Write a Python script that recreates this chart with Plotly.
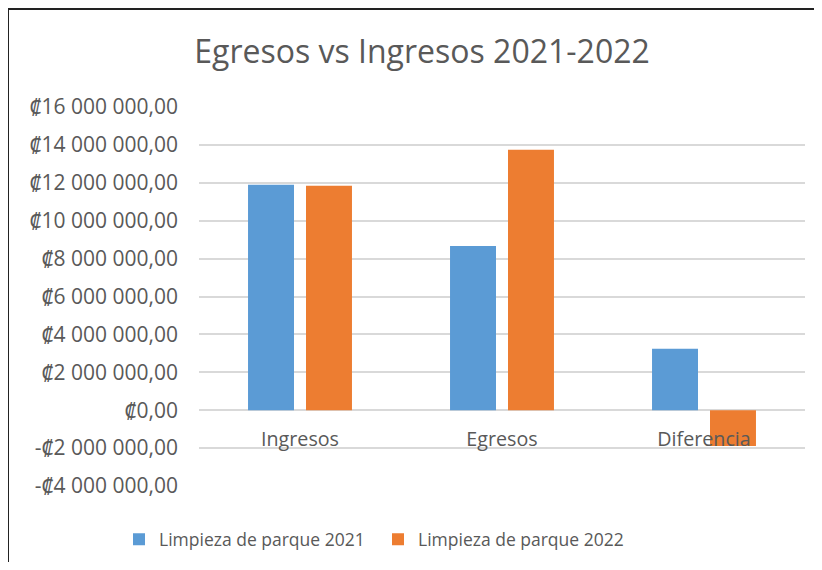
import plotly.graph_objects as go

categories = ["Ingresos", "Egresos", "Diferencia"]
series_2021 = [11900000, 8660000, 3240000]
series_2022 = [11850000, 13740000, -1890000]
series_names = ["Limpieza de parque 2021", "Limpieza de parque 2022"]
tick_values = [-4000000, -2000000, 0, 2000000, 4000000, 6000000, 8000000,
               10000000, 12000000, 14000000, 16000000]
tick_labels = ["-₡4 000 000,00", "-₡2 000 000,00", "₡0,00", "₡2 000 000,00",
               "₡4 000 000,00", "₡6 000 000,00", "₡8 000 000,00",
               "₡10 000 000,00", "₡12 000 000,00", "₡14 000 000,00",
               "₡16 000 000,00"]
title_text = "Egresos vs Ingresos 2021-2022"

FONT = "Open Sans, Noto Sans, DejaVu Sans, sans-serif"
GRAY = "#595959"

fig = go.Figure()
fig.add_trace(go.Bar(x=categories, y=series_2021, name=series_names[0],
                     marker=dict(color="#5B9BD5", line=dict(width=0))))
fig.add_trace(go.Bar(x=categories, y=series_2022, name=series_names[1],
                     marker=dict(color="#ED7D31", line=dict(width=0))))

OFF = 8  # page body offset
W, H = 806, 554
# target positions in window px
win_l, win_r, win_t, win_b = 199, 805, 107, 485.75
L = win_l - OFF
T = win_t - OFF
R = W - (win_r - OFF)
B = H - (win_b - OFF)
pw = W - L - R
ph = H - T - B

def px_x(wx):
    return (wx - OFF - L) / pw

def px_y(wy):
    return (H - B - (wy - OFF)) / ph

fig.update_layout(
    width=W, height=H,
    margin=dict(l=L, r=R, t=T, b=B, autoexpand=False),
    paper_bgcolor="white", plot_bgcolor="white",
    barmode="group", bargap=0.426, bargroupgap=0.207,
    font=dict(family=FONT, color=GRAY),
    title=dict(text=title_text, xref="container", x=(422 - OFF) / W,
               xanchor="center", yref="container",
               y=1 - (52 - OFF) / H, yanchor="middle",
               font=dict(size=32, color=GRAY, family=FONT)),
    showlegend=True,
    legend=dict(orientation="h", x=px_x(119), xanchor="left",
                y=px_y(539), yanchor="middle",
                font=dict(size=17.5, color=GRAY, family=FONT),
                entrywidth=214, entrywidthmode="pixels", tracegroupgap=0),
    xaxis=dict(anchor="free", position=0.2, showline=False, ticks="",
               showgrid=False, ticklabelstandoff=15,
               tickfont=dict(size=19.7, color=GRAY, family=FONT)),
    yaxis=dict(range=[-4000000, 16000000], tickvals=tick_values,
               ticktext=tick_labels, showgrid=True, gridcolor="#d9d9d9",
               gridwidth=1.5, zeroline=True, zerolinecolor="#d9d9d9",
               zerolinewidth=1.5, showline=False, ticks="",
               ticklabelstandoff=20,
               tickfont=dict(size=21, color=GRAY, family=FONT)),
    shapes=[
        dict(type="line", xref="paper", yref="paper",
             x0=px_x(8), x1=px_x(8), y0=px_y(9), y1=px_y(700),
             line=dict(color="#222222", width=2)),
        dict(type="line", xref="paper", yref="paper",
             x0=px_x(8), x1=px_x(1000), y0=px_y(9), y1=px_y(9),
             line=dict(color="#222222", width=2)),
    ],
)

fig.write_html("out.html")
